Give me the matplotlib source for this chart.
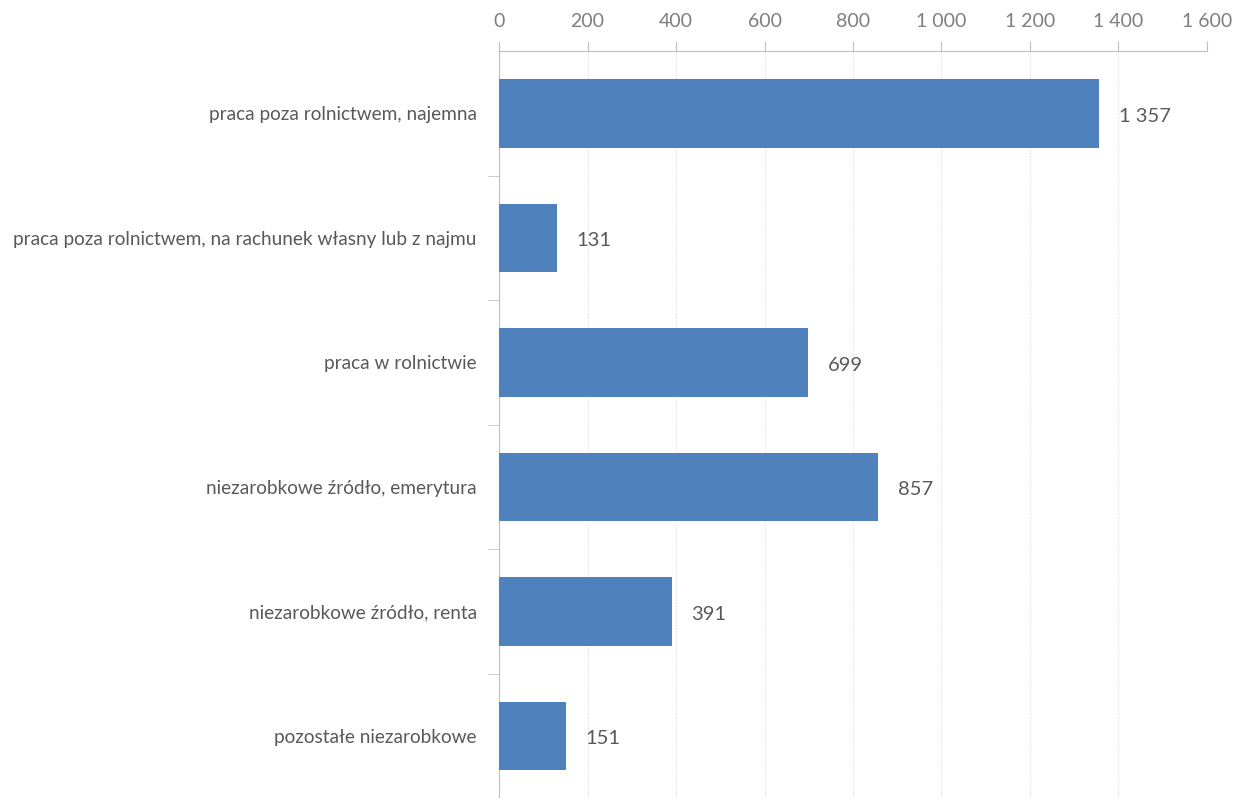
import matplotlib.pyplot as plt
from matplotlib.ticker import FuncFormatter

categories = [
    "praca poza rolnictwem, najemna",
    "praca poza rolnictwem, na rachunek własny lub z najmu",
    "praca w rolnictwie",
    "niezarobkowe źródło, emerytura",
    "niezarobkowe źródło, renta",
    "pozostałe niezarobkowe",
]
values = [1357, 131, 699, 857, 391, 151]
x_ticks = [0, 200, 400, 600, 800, 1000, 1200, 1400, 1600]


def pl_format(v, _pos=None):
    return f"{int(v):,}".replace(",", " ")


plt.rcParams["font.family"] = ["Lato", "DejaVu Sans"]

fig = plt.figure(figsize=(12.43, 7.98), dpi=100)
ax = fig.add_axes([0.4015, 0.0, 0.5695, 0.936])

ypos = list(range(len(categories)))
ax.barh(ypos, values, height=0.55, color="#4F81BD", zorder=3)
ax.set_ylim(len(categories) - 0.5, -0.5)
ax.set_xlim(0, 1600)

for y, v in zip(ypos, values):
    ax.annotate(pl_format(v), (v, y), xytext=(14, -2), textcoords="offset points",
                va="center", ha="left", fontsize=14.5, color="#595959")

ax.xaxis.tick_top()
ax.set_xticks(x_ticks)
ax.xaxis.set_major_formatter(FuncFormatter(pl_format))
ax.tick_params(axis="x", colors="#BFBFBF", labelcolor="#7F7F7F", labelsize=14,
               length=7, pad=8)
ax.grid(axis="x", color="#D9D9D9", linestyle=(0, (1, 1.5)), linewidth=0.8, zorder=0)

ax.set_yticks(ypos)
ax.set_yticklabels(categories, fontsize=13.7, color="#595959")
ax.set_yticks([i + 0.5 for i in ypos[:-1]], minor=True)
ax.tick_params(axis="y", which="major", length=0, pad=16)
ax.tick_params(axis="y", which="minor", length=8, color="#BFBFBF")

for side in ["right", "bottom"]:
    ax.spines[side].set_visible(False)
for side in ["top", "left"]:
    ax.spines[side].set_color("#BFBFBF")

plt.savefig("out.png", dpi=100)
